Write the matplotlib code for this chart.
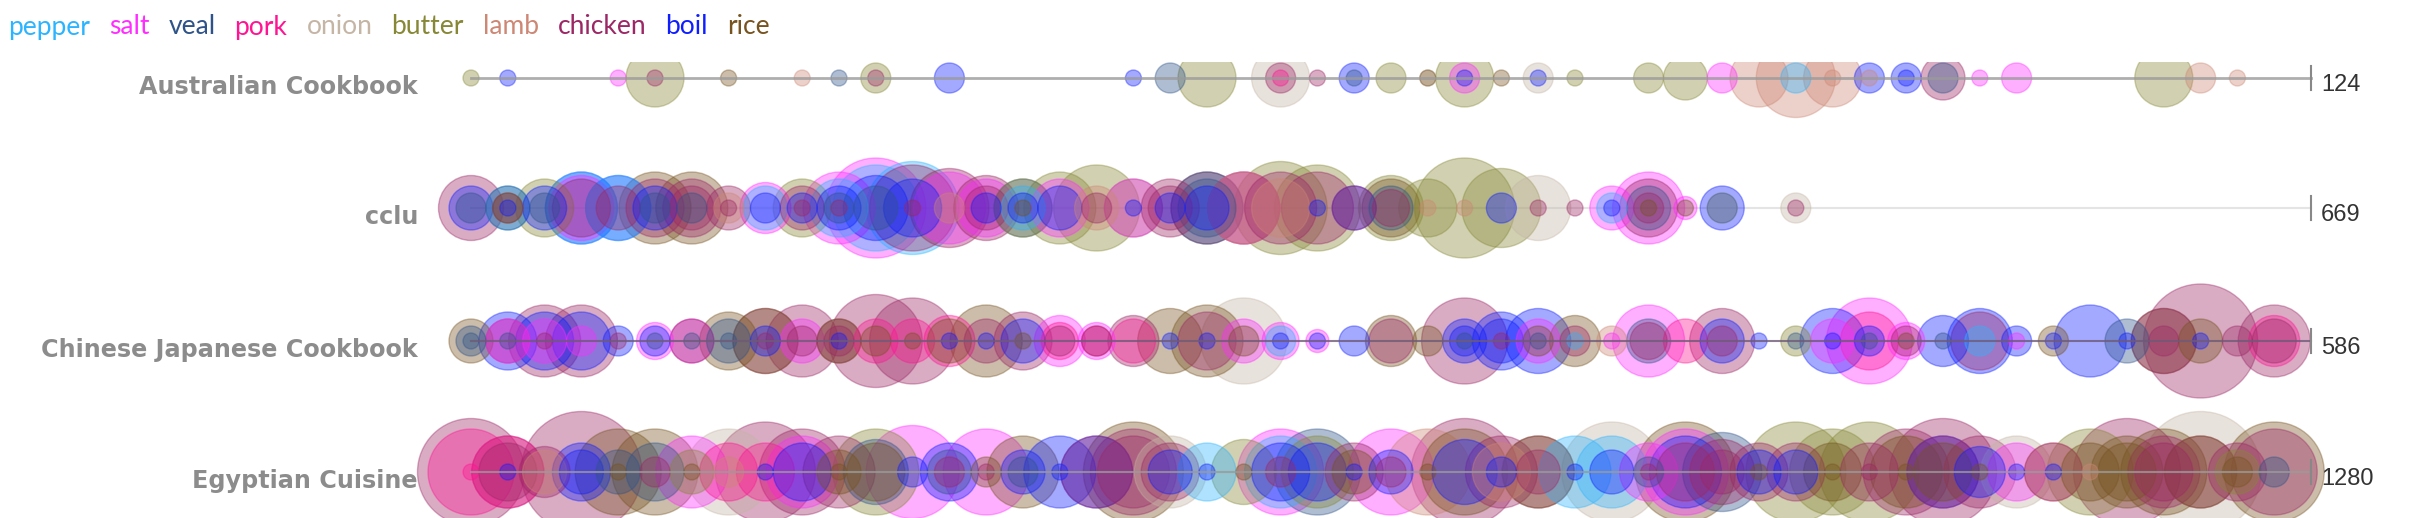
import matplotlib.pyplot as plt
import numpy as np

# ingredients shown in the legend, with their colours
ingredients = ['pepper', 'salt', 'veal', 'pork', 'onion', 'butter', 'lamb', 'chicken', 'boil', 'rice']
ingr_colors = ['#2db4ff', '#ff2dff', '#2f5389', '#ff1493', '#c5b5a5',
               '#868836', '#cd8774', '#9c2765', '#0f1eff', '#775320']

books = ['Australian Cookbook', 'cclu', 'Chinese Japanese Cookbook', 'Egyptian Cuisine']
totals = [124, 669, 586, 1280]

# (bin, ingredient, count), 50 bins per book
australian = [
    (0, 'butter', 1), (1, 'boil', 1), (4, 'salt', 1), (5, 'butter', 4), (5, 'chicken', 1),
    (7, 'rice', 1), (9, 'lamb', 1), (10, 'veal', 1), (11, 'butter', 2), (11, 'chicken', 1),
    (13, 'boil', 2), (18, 'boil', 1), (19, 'veal', 2), (20, 'butter', 4), (22, 'onion', 4),
    (22, 'chicken', 2), (22, 'pork', 1), (23, 'chicken', 1), (24, 'boil', 2), (24, 'veal', 1),
    (25, 'butter', 2), (26, 'onion', 1), (26, 'rice', 1), (27, 'butter', 4), (27, 'salt', 2),
    (27, 'boil', 1), (28, 'rice', 1), (29, 'onion', 2), (29, 'boil', 1), (30, 'butter', 1),
    (32, 'butter', 2), (33, 'butter', 3), (34, 'salt', 2), (35, 'lamb', 4), (36, 'lamb', 5.5),
    (36, 'pepper', 2), (37, 'lamb', 4), (37, 'lamb', 1), (38, 'boil', 2), (38, 'lamb', 1),
    (39, 'boil', 2), (39, 'boil', 1), (40, 'chicken', 3), (40, 'veal', 2), (41, 'salt', 1),
    (42, 'salt', 2), (46, 'butter', 4), (47, 'lamb', 2), (48, 'lamb', 1),
]

cclu = [
    (0, 'chicken', 4.5), (0, 'boil', 3), (0, 'veal', 2),
    (1, 'pepper', 3), (1, 'veal', 3), (1, 'chicken', 2), (1, 'rice', 2), (1, 'boil', 1),
    (2, 'butter', 4), (2, 'boil', 3), (2, 'veal', 2),
    (3, 'boil', 5), (3, 'salt', 4.5), (3, 'chicken', 4), (3, 'pepper', 5),
    (4, 'boil', 4.5), (4, 'pepper', 4.5), (4, 'chicken', 3),
    (5, 'rice', 5), (5, 'chicken', 4), (5, 'boil', 3), (5, 'veal', 2),
    (6, 'rice', 5), (6, 'chicken', 4), (6, 'chicken', 3), (6, 'veal', 2),
    (7, 'chicken', 3), (7, 'lamb', 2), (7, 'chicken', 1),
    (8, 'salt', 3.5), (8, 'pepper', 3), (8, 'boil', 2),
    (9, 'butter', 4), (9, 'chicken', 3), (9, 'boil', 2), (9, 'chicken', 1),
    (10, 'salt', 5), (10, 'pepper', 4), (10, 'boil', 3), (10, 'veal', 2), (10, 'chicken', 1),
    (11, 'salt', 7), (11, 'pepper', 6), (11, 'boil', 4.5), (11, 'veal', 3),
    (12, 'chicken', 6), (12, 'pepper', 6.5), (12, 'boil', 4), (12, 'chicken', 1),
    (13, 'chicken', 5.5), (13, 'salt', 5), (13, 'lamb', 2),
    (14, 'chicken', 4.5), (14, 'salt', 4), (14, 'chicken', 3), (14, 'boil', 2),
    (15, 'veal', 4), (15, 'butter', 4), (15, 'pepper', 3), (15, 'boil', 2), (15, 'rice', 1),
    (16, 'butter', 5), (16, 'salt', 4), (16, 'boil', 3),
    (17, 'butter', 6), (17, 'lamb', 3), (17, 'chicken', 2),
    (18, 'butter', 4), (18, 'salt', 4), (18, 'boil', 1),
    (19, 'chicken', 4), (19, 'chicken', 3), (19, 'boil', 2),
    (20, 'boil', 5), (20, 'rice', 5), (20, 'veal', 4), (20, 'boil', 3),
    (21, 'salt', 5), (21, 'chicken', 5), (21, 'lamb', 5),
    (22, 'butter', 6.5), (22, 'chicken', 5), (22, 'lamb', 4),
    (23, 'butter', 6), (23, 'chicken', 5), (23, 'boil', 1),
    (24, 'boil', 3), (24, 'chicken', 3),
    (25, 'butter', 4.5), (25, 'rice', 4), (25, 'veal', 3), (25, 'chicken', 2.5),
    (26, 'butter', 4), (26, 'lamb', 1),
    (27, 'butter', 7), (27, 'lamb', 1),
    (28, 'butter', 5.5), (28, 'boil', 2),
    (29, 'onion', 4.5), (29, 'chicken', 1),
    (30, 'chicken', 1),
    (31, 'salt', 3), (31, 'pepper', 2), (31, 'boil', 1),
    (32, 'salt', 5), (32, 'chicken', 4), (32, 'veal', 3), (32, 'chicken', 2), (32, 'rice', 1),
    (33, 'salt', 1.5), (33, 'rice', 1),
    (34, 'boil', 3), (34, 'onion', 2), (34, 'veal', 2),
    (36, 'onion', 2), (36, 'chicken', 1),
]

chinese = [
    (0, 'rice', 3), (0, 'veal', 2), (0, 'veal', 1),
    (1, 'boil', 4), (1, 'chicken', 3), (1, 'salt', 3), (1, 'veal', 1),
    (2, 'chicken', 5), (2, 'boil', 4), (2, 'salt', 3), (2, 'chicken', 1),
    (3, 'chicken', 5), (3, 'boil', 4), (3, 'salt', 2),
    (4, 'boil', 2), (4, 'chicken', 1),
    (5, 'salt', 2.5), (5, 'boil', 2), (5, 'veal', 1),
    (6, 'salt', 3), (6, 'chicken', 3), (6, 'veal', 1),
    (7, 'rice', 4), (7, 'veal', 3), (7, 'veal', 1),
    (8, 'chicken', 4.5), (8, 'rice', 4.5), (8, 'boil', 2), (8, 'chicken', 1),
    (9, 'chicken', 5), (9, 'salt', 3), (9, 'chicken', 2),
    (10, 'chicken', 3), (10, 'rice', 3), (10, 'chicken', 2), (10, 'boil', 1),
    (11, 'chicken', 6.5), (11, 'pork', 3), (11, 'rice', 2),
    (12, 'chicken', 6), (12, 'pork', 3), (12, 'rice', 1),
    (13, 'pork', 3.5), (13, 'rice', 3), (13, 'boil', 1),
    (14, 'rice', 5), (14, 'chicken', 3), (14, 'boil', 1),
    (15, 'chicken', 4), (15, 'boil', 3), (15, 'rice', 1),
    (16, 'salt', 3.5), (16, 'pork', 2.5), (16, 'chicken', 2),
    (17, 'salt', 2.5), (17, 'pork', 2), (17, 'chicken', 2),
    (18, 'chicken', 3.5), (18, 'pork', 3),
    (19, 'rice', 4.5), (19, 'boil', 1),
    (20, 'rice', 5), (20, 'chicken', 4), (20, 'boil', 1),
    (21, 'onion', 6), (21, 'salt', 3), (21, 'rice', 2),
    (22, 'salt', 2.5), (22, 'pepper', 2), (22, 'boil', 1),
    (23, 'salt', 1.5), (23, 'boil', 1),
    (24, 'boil', 2),
    (25, 'rice', 3.5), (25, 'chicken', 3),
    (26, 'rice', 2),
    (27, 'chicken', 6), (27, 'boil', 3), (27, 'boil', 2), (27, 'veal', 1),
    (28, 'boil', 4), (28, 'boil', 3), (28, 'chicken', 1),
    (29, 'boil', 4.5), (29, 'salt', 3), (29, 'rice', 2), (29, 'veal', 1),
    (30, 'rice', 3.5), (30, 'chicken', 2), (30, 'pepper', 1),
    (31, 'lamb', 2), (31, 'salt', 1),
    (32, 'salt', 5), (32, 'veal', 3), (32, 'chicken', 2.5),
    (33, 'pork', 3),
    (34, 'chicken', 4.5), (34, 'boil', 3), (34, 'chicken', 2),
    (35, 'boil', 1),
    (36, 'butter', 2), (36, 'veal', 1),
    (37, 'boil', 4.5), (37, 'salt', 3), (37, 'boil', 1),
    (38, 'salt', 6), (38, 'pork', 4), (38, 'boil', 2), (38, 'veal', 1),
    (39, 'salt', 2.5), (39, 'chicken', 2), (39, 'rice', 1),
    (40, 'boil', 3.5), (40, 'veal', 1),
    (41, 'boil', 4.5), (41, 'chicken', 4), (41, 'pepper', 2),
    (42, 'boil', 2), (42, 'salt', 1),
    (43, 'rice', 2), (43, 'boil', 1),
    (44, 'boil', 5),
    (45, 'veal', 3), (45, 'boil', 1),
    (46, 'rice', 4.5), (46, 'chicken', 4.5), (46, 'chicken', 2),
    (47, 'chicken', 8), (47, 'rice', 3), (47, 'boil', 1),
    (48, 'chicken', 2),
    (49, 'chicken', 5), (49, 'pork', 3.5), (49, 'chicken', 3),
]

egyptian = [
    (0, 'chicken', 7.5), (0, 'pork', 6), (0, 'pork', 1),
    (1, 'chicken', 5), (1, 'pork', 5), (1, 'chicken', 4), (1, 'boil', 1),
    (2, 'chicken', 3.5), (2, 'lamb', 3),
    (3, 'chicken', 8.5), (3, 'boil', 4), (3, 'boil', 3),
    (4, 'rice', 6), (4, 'veal', 3), (4, 'rice', 1),
    (5, 'rice', 6), (5, 'veal', 4), (5, 'chicken', 2),
    (6, 'salt', 5), (6, 'butter', 3), (6, 'rice', 1),
    (7, 'onion', 6), (7, 'pork', 4), (7, 'lamb', 2),
    (8, 'chicken', 7), (8, 'pork', 4), (8, 'boil', 1),
    (9, 'chicken', 6), (9, 'salt', 5), (9, 'boil', 4),
    (10, 'chicken', 5), (10, 'rice', 3), (10, 'rice', 1),
    (11, 'butter', 6), (11, 'veal', 4.5), (11, 'rice', 4),
    (12, 'salt', 6.5), (12, 'boil', 2),
    (13, 'boil', 4), (13, 'veal', 3), (13, 'chicken', 2),
    (14, 'salt', 6), (14, 'rice', 2), (14, 'chicken', 1),
    (15, 'rice', 5), (15, 'boil', 3), (15, 'veal', 2),
    (16, 'boil', 5), (16, 'boil', 1),
    (17, 'boil', 5), (17, 'chicken', 5),
    (18, 'rice', 7), (18, 'chicken', 6), (18, 'chicken', 5),
    (19, 'onion', 5), (19, 'chicken', 4), (19, 'boil', 3),
    (20, 'pepper', 4), (20, 'boil', 1),
    (21, 'butter', 4.5), (21, 'rice', 1),
    (22, 'salt', 6), (22, 'pepper', 5), (22, 'boil', 4), (22, 'chicken', 2),
    (23, 'veal', 6), (23, 'butter', 5), (23, 'boil', 4),
    (24, 'chicken', 4), (24, 'rice', 3), (24, 'boil', 1),
    (25, 'salt', 6), (25, 'boil', 3), (25, 'chicken', 2),
    (26, 'lamb', 6), (26, 'rice', 1),
    (27, 'chicken', 7.5), (27, 'rice', 6), (27, 'boil', 4.5),
    (28, 'chicken', 5), (28, 'lamb', 4), (28, 'boil', 2),
    (29, 'chicken', 5), (29, 'rice', 5), (29, 'chicken', 3),
    (30, 'pepper', 5), (30, 'boil', 1),
    (31, 'onion', 7), (31, 'pepper', 5), (31, 'boil', 3),
    (32, 'salt', 4), (32, 'veal', 2), (32, 'chicken', 1),
    (33, 'rice', 7), (33, 'salt', 6), (33, 'boil', 5), (33, 'chicken', 4),
    (34, 'veal', 5.5), (34, 'chicken', 4.5), (34, 'chicken', 3),
    (35, 'chicken', 4), (35, 'boil', 3), (35, 'rice', 1),
    (36, 'butter', 7), (36, 'chicken', 4), (36, 'boil', 3),
    (37, 'butter', 6), (37, 'rice', 4), (37, 'rice', 1),
    (38, 'butter', 7), (38, 'chicken', 4), (38, 'chicken', 1),
    (39, 'chicken', 6), (39, 'rice', 5), (39, 'rice', 1),
    (40, 'chicken', 7.5), (40, 'boil', 5), (40, 'chicken', 5), (40, 'rice', 4),
    (41, 'chicken', 5), (41, 'boil', 3.5), (41, 'rice', 1),
    (42, 'onion', 5), (42, 'salt', 4), (42, 'boil', 1),
    (43, 'lamb', 4), (43, 'chicken', 4), (43, 'boil', 1),
    (44, 'butter', 6), (44, 'rice', 4), (44, 'lamb', 1),
    (45, 'chicken', 7.5), (45, 'rice', 5), (45, 'rice', 4),
    (46, 'rice', 6), (46, 'chicken', 5), (46, 'chicken', 4),
    (47, 'onion', 8.5), (47, 'chicken', 5), (47, 'rice', 5),
    (48, 'chicken', 4), (48, 'butter', 3), (48, 'rice', 2),
    (49, 'rice', 7), (49, 'chicken', 6), (49, 'veal', 2),
]

rows_data = [australian, cclu, chinese, egyptian]

# layout in pixels of the 2430x518 picture
W, H = 2430, 518
X0, STEP = 471, 36.8          # pixel of bin 0, pixels per bin
N_BINS = 50
line_y = [78, 208, 341, 472]
clip_top = [62, 140, 272, 402]
line_colors = ['#9a9a9a', '#dedede', '#6e5a78', '#9a9a9a']

color_of = dict(zip(ingredients, ingr_colors))

fig = plt.figure(figsize=(W / 100, H / 100), dpi=100)

for k, data in enumerate(rows_data):
    top = clip_top[k]
    bottom = min(line_y[k] + 75, H)
    ax = fig.add_axes([0, 1 - bottom / H, 1, (bottom - top) / H])
    ax.set_xlim(-X0 / STEP, (W - X0) / STEP)
    ax.set_ylim(-(bottom - line_y[k]), line_y[k] - top)
    ax.axis('off')

    # biggest circles first so the small ones sit on top
    data = sorted(data, key=lambda d: -d[2])
    xs = np.array([d[0] for d in data], dtype=float)
    cols = [color_of[d[1]] for d in data]
    radius = 7 * np.array([d[2] for d in data]) + 1      # px
    sizes = (2 * radius * 0.72) ** 2
    ax.scatter(xs, np.zeros_like(xs), s=sizes, c=cols, alpha=0.38,
               edgecolors=cols, linewidths=1, zorder=2)

    ax.plot([0, N_BINS], [0, 0], color=line_colors[k], lw=2 if k == 0 else 1.5,
            alpha=0.8, zorder=3 if k != 1 else 1)
    ax.plot([N_BINS, N_BINS], [-12, 12], color='#888888', lw=1.5, zorder=3)

    fig.text(418 / W, 1 - (line_y[k] + 9) / H, books[k], ha='right', va='center',
             fontsize=17.2, fontweight='bold', color='#8c8c8c', family='DejaVu Sans')
    fig.text(2321 / W, 1 - (line_y[k] + 7) / H, str(totals[k]), ha='left', va='center',
             fontsize=17, color='#333333', family='Liberation Sans')

# legend across the top
renderer = fig.canvas.get_renderer()
x = 8
for name, col in zip(ingredients, ingr_colors):
    t = fig.text(x / W, 1 - 27 / H, name, color=col, fontsize=19, va='center',
                 family=['Lato', 'DejaVu Sans'])
    x += t.get_window_extent(renderer).width + 19

fig.savefig('out.png', dpi=100, facecolor='white')
